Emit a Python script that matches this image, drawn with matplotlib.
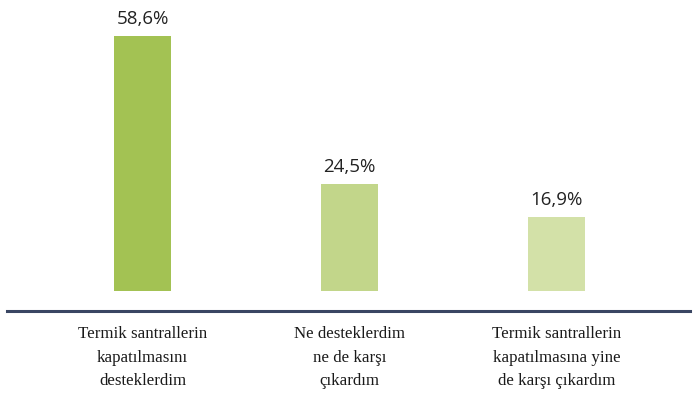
import matplotlib
matplotlib.use("Agg")
import matplotlib.pyplot as plt
from matplotlib.lines import Line2D

categories = [
    "Termik santrallerin\nkapatılmasını\ndesteklerdim",
    "Ne desteklerdim\nne de karşı\nçıkardım",
    "Termik santrallerin\nkapatılmasına yine\nde karşı çıkardım",
]
values = [58.6, 24.5, 16.9]
value_labels = ["58,6%", "24,5%", "16,9%"]
colors = ["#a3c253", "#c2d68a", "#d3e1a8"]

W, H = 697, 401
fig = plt.figure(figsize=(W / 100, H / 100), dpi=100)
# axes spans x 7..690 px, y 0..291 px (bars baseline)
ax = fig.add_axes([7 / W, (H - 291) / H, 683 / W, 291 / H])
ax.set_xlim(-0.6546, 2.645)
ax.set_ylim(0, 291 / 4.35)

x = list(range(len(values)))
bars = ax.bar(x, values, width=0.275, color=colors)
for b, lab in zip(bars, value_labels):
    ax.annotate(lab, (b.get_x() + b.get_width() / 2, b.get_height()),
                xytext=(0, 6), textcoords="offset points",
                ha="center", va="bottom", fontsize=13.5,
                family="Open Sans", color="#222222")

ax.set_xticks(x)
ax.set_xticklabels(categories, family="Liberation Serif", fontsize=12.2,
                   linespacing=1.65, color="#1a1a1a")
ax.tick_params(axis="x", length=0, pad=25)
ax.set_yticks([])
for s in ax.spines.values():
    s.set_visible(False)

# separate baseline rule below the bars
fig.add_artist(Line2D([7 / W, 690 / W], [(H - 311) / H, (H - 311) / H],
                      color="#3a4663", linewidth=2.2))

fig.savefig("out.png", dpi=100)
